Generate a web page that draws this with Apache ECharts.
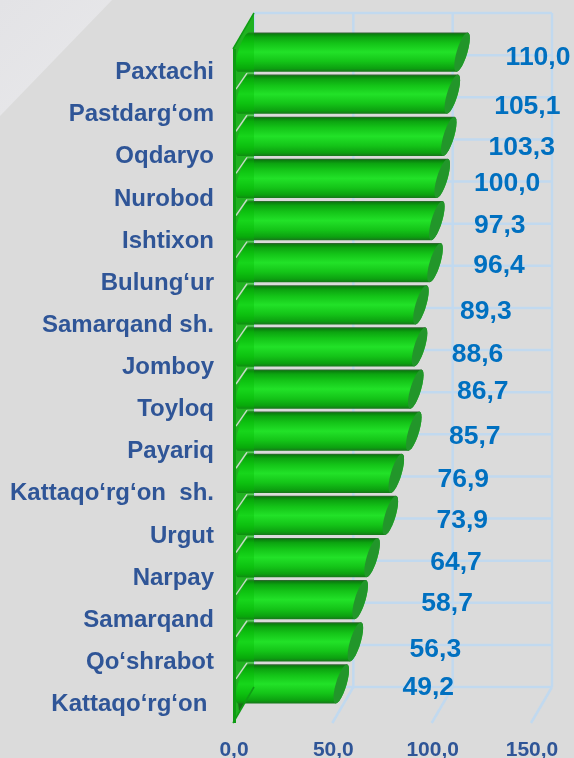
<!DOCTYPE html>
<html>
<head>
<meta charset="utf-8">
<style>html,body{margin:0;padding:0;background:#dcdcdc}#c{width:574px;height:758px}</style>
<script src="https://cdn.jsdelivr.net/npm/echarts@6/dist/echarts.min.js"></script>
</head>
<body>
<div id="c"></div>
<script>
// ---- data ----
const categories = ["Paxtachi","Pastdarg‘om","Oqdaryo","Nurobod","Ishtixon","Bulung‘ur","Samarqand sh.","Jomboy","Toyloq","Payariq","Kattaqo‘rg‘on  sh.","Urgut","Narpay","Samarqand","Qo‘shrabot","Kattaqo‘rg‘on "];
const values = [110.0,105.1,103.3,100.0,97.3,96.4,89.3,88.6,86.7,85.7,76.9,73.9,64.7,58.7,56.3,49.2];
const axisTicks = [0,50,100,150];

// ---- layout of the hand-placed value labels (pixels from each bar's end) ----
const labelShiftX = [76,75,73,65,63,64,65,58,67,61,67,72,84,87,80,87];
const labelShiftY = [-12,-6,-7,-13,-13,-15,-11,-10,-15,-13,-12,-13,-13,-14,-10,-14];

// ---- 3D look ----
const DEPTH_X = 21, DEPTH_Y = -36;
const GRID_C = '#c1d9ef', AXIS_C = '#2f5597', LABEL_C = '#0070c0';
const fmt = v => v.toFixed(1).replace('.', ',');
const bodyFill = new echarts.graphic.LinearGradient(0,0,0,1,[
  {offset:0,color:'#3a5f3a'},{offset:.04,color:'#0a7f0e'},{offset:.12,color:'#0ca410'},{offset:.28,color:'#14c418'},
  {offset:.5,color:'#22e228'},{offset:.74,color:'#14c418'},{offset:.92,color:'#0ca010'},{offset:1,color:'#17761b'}]);

function capPoint(cx, cy, h, t){
  return [cx + 5.5*Math.cos(t) + 5.5*Math.sin(t), cy - h*Math.sin(t)];
}
function arc(cx, cy, h, from, to){
  const pts = [];
  for (let k = 0; k <= 24; k++) pts.push(capPoint(cx, cy, h, from + (to-from)*k/24));
  return pts;
}

function renderBackGrid(params, api){
  const children = [];
  const line = (a,b) => ({type:'line',shape:{x1:a[0],y1:a[1],x2:b[0],y2:b[1]},style:{stroke:GRID_C,lineWidth:2.5}});
  const band = api.size([0,1])[1];
  const first = api.coord([0,0]), end = api.coord([axisTicks[axisTicks.length-1],0]);
  const topY = first[1]-band/2+DEPTH_Y, botY = first[1]-band/2+band*categories.length+DEPTH_Y;
  axisTicks.forEach(t => {
    const x = api.coord([t,0])[0];
    children.push(line([x+DEPTH_X,topY],[x+DEPTH_X,botY]));
    if (t>0) children.push(line([x,botY-DEPTH_Y],[x+DEPTH_X,botY]));
  });
  for (let i=0;i<=categories.length;i++){
    const y = topY+band*i;
    children.push(line([first[0]+DEPTH_X,y],[end[0]+DEPTH_X,y]));
  }
  return {type:'group',children};
}
function wallShape(api){
  const band = api.size([0,1])[1];
  const p = api.coord([0,0]);
  const top = p[1]-band/2, bot = top+band*categories.length;
  return {x:p[0],top,bot,band};
}
function renderWallBase(params, api){
  const w = wallShape(api);
  return {type:'group',children:[
    {type:'polygon',shape:{points:[[w.x,w.top],[w.x+DEPTH_X,w.top+DEPTH_Y],[w.x+DEPTH_X,w.bot+DEPTH_Y],[w.x,w.bot]]},
      style:{fill:'rgba(0,160,0,0.78)'}},
    {type:'polygon',shape:{points:[[w.x+5,w.bot-21],[w.x+12,w.bot-21],[w.x+6,w.bot-12]]},style:{fill:'#234f23'}}
  ]};
}
function renderBar(params, api){
  const v = api.value(0), i = api.value(1);
  const end = api.coord([v,i]), start = api.coord([0,i]);
  const h = api.size([0,1])[1]*0.465;
  const cy = end[1]+DEPTH_Y/2, x1 = end[0]+DEPTH_X/2, x0 = start[0]+DEPTH_X/2;
  const body = arc(x1,cy,h,Math.PI/2,-Math.PI/2).concat(arc(x0,cy,h,-Math.PI/2,-3*Math.PI/2));
  const cap = arc(x1,cy,h,0,Math.PI*2);
  return {type:'group',children:[
    {type:'polygon',shape:{points:body},style:{fill:bodyFill}},
    {type:'polygon',shape:{points:cap},style:{fill:'#22962a'}}
  ]};
}
function renderWallTop(params, api){
  const w = wallShape(api);
  const children = [
    {type:'polygon',shape:{points:[[w.x,w.top],[w.x+DEPTH_X,w.top+DEPTH_Y],[w.x+DEPTH_X,w.bot+DEPTH_Y],[w.x,w.bot]]},
      style:{fill:'rgba(0,190,0,0.32)'}}
  ];
  for (let i=1;i<categories.length;i++){
    const y = w.top+w.band*i;
    children.push({type:'line',shape:{x1:w.x+3,y1:y-2,x2:w.x+14,y2:y-18},style:{stroke:'#c8dcc8',lineWidth:1.4}});
    children.push({type:'line',shape:{x1:w.x+14,y1:y-18,x2:w.x+21,y2:y-18},style:{stroke:'rgba(215,230,215,0.35)',lineWidth:1.5}});
  }
  children.push({type:'line',shape:{x1:w.x+1.5,y1:w.top,x2:w.x+1.5,y2:w.bot},style:{stroke:'#0f9c14',lineWidth:3}});
  children.push({type:'line',shape:{x1:w.x,y1:w.top,x2:w.x+DEPTH_X,y2:w.top+DEPTH_Y},style:{stroke:'#0f9c14',lineWidth:1.5}});
  children.push({type:'line',shape:{x1:w.x,y1:w.bot,x2:w.x+DEPTH_X,y2:w.bot+DEPTH_Y},style:{stroke:'#0f9c14',lineWidth:1.5}});
  return {type:'group',children};
}
function renderValueLabel(params, api){
  const v = api.value(0), i = api.value(1);
  const p = api.coord([v,i]);
  return {type:'text',style:{
    x:p[0]+DEPTH_X/2+labelShiftX[i], y:p[1]+labelShiftY[i],
    text:fmt(v), fill:LABEL_C, font:'bold 26.5px "Liberation Sans", Arial, sans-serif',
    align:'center', verticalAlign:'middle'}};
}

const barData = values.map((v,i)=>[v,i]);
const chart = echarts.init(document.getElementById('c'),null,{renderer:'canvas'});
chart.setOption({
  animation:false,
  backgroundColor:'#dbdbdb',
  graphic:[
    {type:'polygon',silent:true,z:-10,shape:{points:[[0,0],[112,0],[0,116]]},
     style:{fill:new echarts.graphic.LinearGradient(0,0,1,1,[{offset:0,color:'#e3e3e6'},{offset:.9,color:'#e8e8ea'},{offset:1,color:'#e0e0e1'}])}}
  ],
  grid:{left:233,right:43,top:49,bottom:35,containLabel:false,outerBoundsMode:'none'},
  xAxis:{type:'value',min:0,max:150,interval:50,
    axisLine:{show:false},axisTick:{show:false},splitLine:{show:false},
    axisLabel:{margin:15,color:AXIS_C,fontFamily:'Liberation Sans',fontWeight:'bold',fontSize:21,formatter:fmt,padding:[2,0,0,2],hideOverlap:false,showMinLabel:true,showMaxLabel:true}},
  yAxis:{type:'category',inverse:true,data:categories,
    axisLine:{show:false},axisTick:{show:false},splitLine:{show:false},
    axisLabel:{margin:19,interval:0,formatter:v=>'{a|'+v+'}',
      rich:{a:{color:AXIS_C,fontFamily:'Liberation Sans',fontWeight:'bold',fontSize:24,padding:[5,0,0,0]}}}},
  series:[
    {type:'custom',z:1,silent:true,clip:false,data:[[0,0]],encode:{x:0,y:1},renderItem:renderBackGrid},
    {type:'custom',z:2,silent:true,clip:false,data:[[0,0]],encode:{x:0,y:1},renderItem:renderWallBase},
    {type:'custom',z:3,silent:true,clip:false,data:barData,encode:{x:0,y:1},renderItem:renderBar},
    {type:'custom',z:4,silent:true,clip:false,data:[[0,0]],encode:{x:0,y:1},renderItem:renderWallTop},
    {type:'custom',z:5,silent:true,clip:false,data:barData,encode:{x:0,y:1},renderItem:renderValueLabel}
  ]
});
</script>
</body>
</html>
